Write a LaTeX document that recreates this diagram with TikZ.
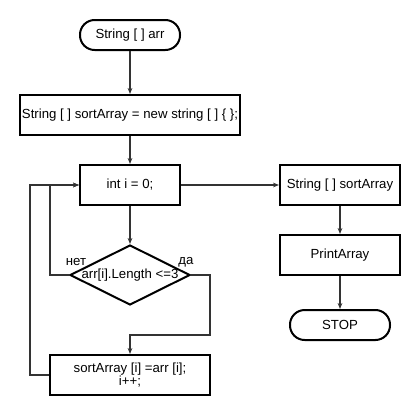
\documentclass[tikz,border=0pt]{standalone}
\usepackage{fontspec}
\setmainfont{Liberation Sans}
\usetikzlibrary{shapes.geometric,arrows.meta}
\begin{document}
\begin{tikzpicture}[x=0.75pt,y=-0.75pt,
  font=\fontsize{9.9pt}{11pt}\selectfont,
  box/.style={draw=black,line width=1.5pt,inner sep=0pt,align=center},
  term/.style={box,rounded corners=11pt},
  conn/.style={draw=black!80,line width=1pt},
  arr/.style={conn,-{Stealth[length=4.5pt,width=3.5pt]}}]
\useasboundingbox (0,0) rectangle (420,415);
\node[term,minimum width=75pt,minimum height=22.5pt] (start) at (130,35) {String [ ] arr};
\node[box,minimum width=165pt,minimum height=30pt] (init) at (130,115) {};
\node (inittxt) at (130,115) {String [ ] sortArray = new string [ ] \{ \};};
\node[box,minimum width=75pt,minimum height=30pt] (loopi) at (130,185) {int i = 0;};
\node[box,diamond,minimum width=90pt,minimum height=45pt] (cond) at (130,275) {};
\node[inner sep=0pt] (condtxt) at (130,275) {arr[i].Length <=3};
\node[box,minimum width=120pt,minimum height=30pt] (body) at (130,375) {sortArray [i] =arr [i];\\[-1.5pt] i++;};
\node[box,minimum width=90pt,minimum height=30pt] (sortA) at (340,185) {String [ ] sortArray};
\node[box,minimum width=90pt,minimum height=30pt] (print) at (340,255) {PrintArray};
\node[term,minimum width=75pt,minimum height=22.5pt] (stop) at (340,325) {STOP};
\node (no) at (76,262) {нет};
\node (yes) at (186,262) {да};
\coordinate (nl1) at (50,275);
\coordinate (nl2) at (50,185);
\coordinate (yr1) at (210,275);
\coordinate (yr2) at (210,335);
\coordinate (yr3) at (130,335);
\coordinate (bl1) at (30,375);
\coordinate (bl2) at (30,185);
\draw[arr] (start) -- (init);
\draw[arr] (init) -- (loopi);
\draw[arr] (loopi) -- (cond);
\draw[arr] (loopi) -- (sortA);
\draw[arr] (sortA) -- (print);
\draw[arr] (print) -- (stop);
\draw[arr] (cond.west) -- (nl1) -- (nl2) -- (loopi.west);
\draw[arr] (cond.east) -- (yr1) -- (yr2) -- (yr3) -- (body.north);
\draw[arr] (body.west) -- (bl1) -- (bl2) -- (loopi.west);
\end{tikzpicture}
\end{document}
